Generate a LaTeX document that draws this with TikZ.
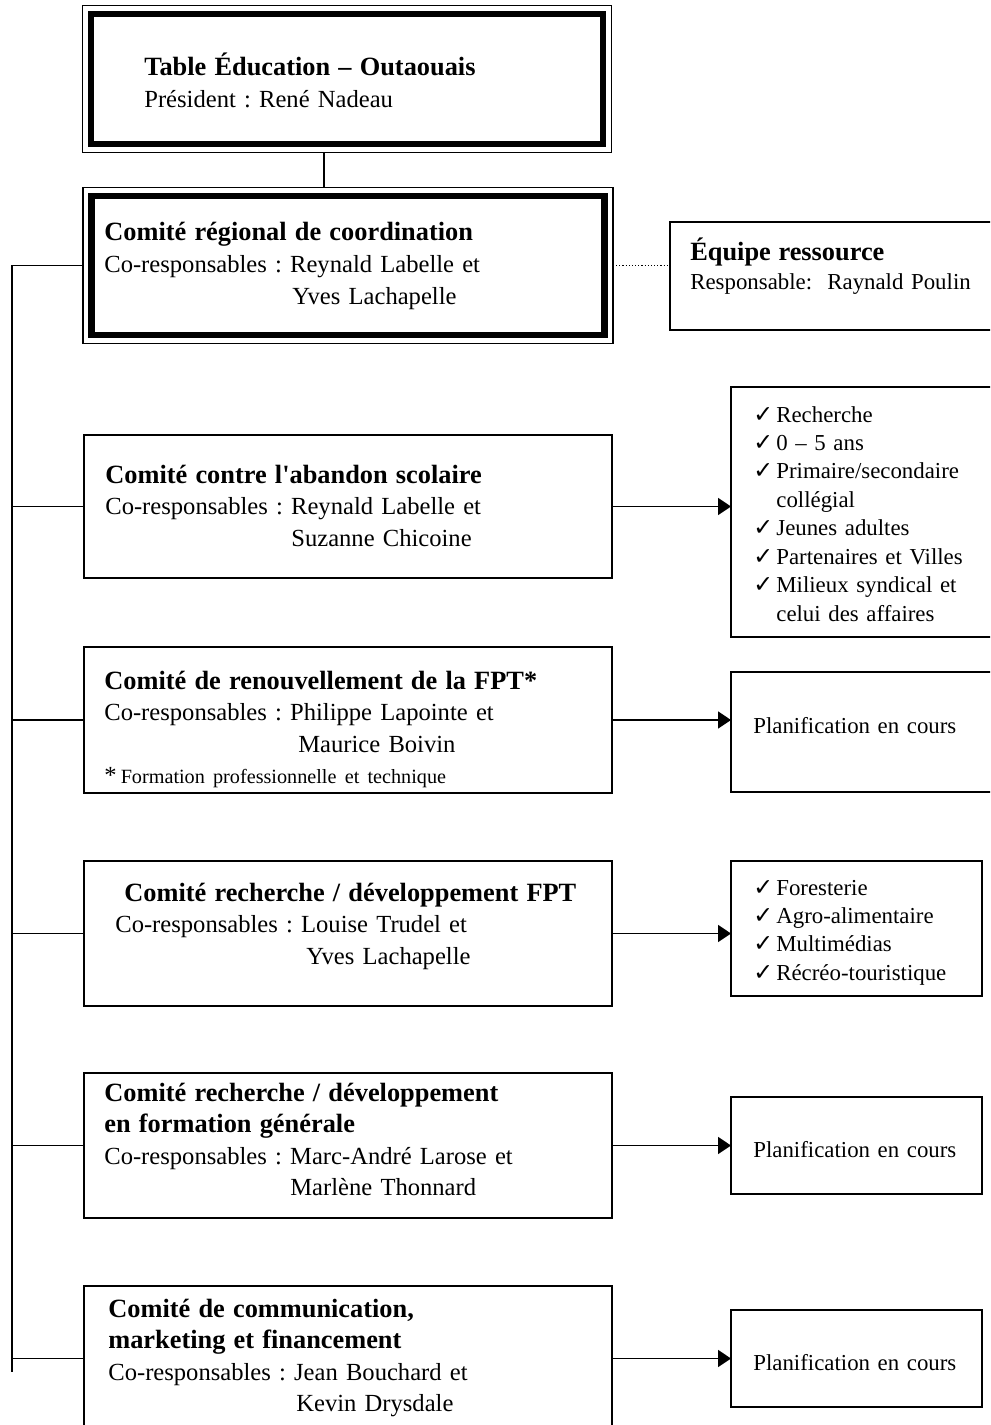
\documentclass[tikz,border=0pt]{standalone}
\usepackage{fontspec}
\setmainfont{Liberation Serif}
\newfontfamily\chkfont{DejaVu Sans}
\usetikzlibrary{arrows.meta}
\frenchspacing
\newdimen\px \px=0.02cm
\newcommand{\ck}{\makebox[23\px][l]{\chkfont\fontsize{13.5}{13.5}\selectfont ✓}}
\newcommand{\titre}[1]{{\fontsize{15}{18}\selectfont\bfseries #1}}
\tikzset{
  box/.style={draw, line width=1pt, outer sep=0pt, inner sep=0pt},
  heavy/.style={draw, line width=3.6pt, outer sep=0pt, inner sep=0pt},
  txt/.style={anchor=base west, align=left, text width=10cm, inner sep=0pt,
    font=\fontsize{14}{18}\selectfont},
  side/.style={anchor=base west, align=left, text width=6cm, inner sep=0pt,
    font=\fontsize{13}{16.2}\selectfont},
  link/.style={line width=1pt},
  arr/.style={line width=1pt, -{Triangle[length=0.26cm, width=0.34cm]}}
}
\begin{document}
\begin{tikzpicture}[x=0.02cm, y=-0.02cm]
  \useasboundingbox (0,0) rectangle (990,1425);
  \clip (0,0) rectangle (990,1425);
  % frames
  \node[heavy, minimum width=512\px, minimum height=130\px] (table) at (347,79) {};
  \node[box, line width=0.8pt, minimum width=529\px, minimum height=147\px] (tableF) at (347,79) {};
  \node[heavy, minimum width=513\px, minimum height=139\px] (regional) at (348,265.5) {};
  \node[box, line width=0.8pt, minimum width=530\px, minimum height=156\px] (regionalF) at (348,265.5) {};
  \node[box, minimum width=330\px, minimum height=108\px] (equipe) at (835,276) {};
  \node[box, minimum width=528\px, minimum height=143\px] (abandon) at (348,506.5) {};
  \node[box, minimum width=528\px, minimum height=146\px] (fpt) at (348,720) {};
  \node[box, minimum width=528\px, minimum height=145\px] (rdfpt) at (348,933.5) {};
  \node[box, minimum width=528\px, minimum height=145\px] (generale) at (348,1145.5) {};
  \node[box, minimum width=528\px, minimum height=145\px] (comm) at (348,1358.5) {};
  \node[box, minimum width=269\px, minimum height=250\px] (list1) at (865.5,512) {};
  \node[box, minimum width=269\px, minimum height=120\px] (plan1) at (865.5,732) {};
  \node[box, minimum width=251\px, minimum height=135\px] (list2) at (856.5,928.5) {};
  \node[box, minimum width=251\px, minimum height=97\px] (plan2) at (856.5,1145.5) {};
  \node[box, minimum width=251\px, minimum height=97\px] (plan3) at (856.5,1358.5) {};
  % texts
  \node[txt] (tTable) at (144,76) {\titre{Table Éducation – Outaouais}\\Président : René Nadeau};
  \node[txt] (tRegional) at (104,241) {\titre{Comité régional de coordination}\\
    Co-responsables : Reynald Labelle et\\\hspace*{188\px}Yves Lachapelle};
  \node[side] (tEquipe) at (690,261) {{\fontsize{15}{16}\selectfont\bfseries Équipe ressource}\\
    Responsable:\ \ Raynald Poulin};
  \node[txt] (tAbandon) at (105,483) {\titre{Comité contre l\textquotesingle abandon scolaire}\\
    Co-responsables : Reynald Labelle et\\\hspace*{186\px}Suzanne Chicoine};
  \node[txt] (tFpt) at (104,689) {\titre{Comité de renouvellement de la FPT*}\\
    Co-responsables : Philippe Lapointe et\\\hspace*{194\px}Maurice Boivin\\
    {*}\,{\fontsize{11.5}{14}\selectfont Formation professionnelle et technique}};
  \node[txt] (tRdfpt) at (115,901) {\hspace*{9\px}\titre{Comité recherche / développement FPT}\\
    Co-responsables : Louise Trudel et\\\hspace*{191\px}Yves Lachapelle};
  \node[txt] (tGenerale) at (104,1101) {\titre{Comité recherche / développement}\\
    \titre{en formation générale}\\
    Co-responsables : Marc-André Larose et\\\hspace*{186\px}Marlène Thonnard};
  \node[txt] (tComm) at (108,1317) {\titre{Comité de communication,}\\
    \titre{marketing et financement}\\
    Co-responsables : Jean Bouchard et\\\hspace*{188\px}Kevin Drysdale};
  \node[side] (tList1) at (753,422) {\ck Recherche\\\ck 0 – 5 ans\\\ck Primaire/secondaire\\
    \hspace*{23\px}collégial\\\ck Jeunes adultes\\\ck Partenaires et Villes\\
    \ck Milieux syndical et\\\hspace*{23\px}celui des affaires};
  \node[side] (tPlan1) at (753,733) {Planification en cours};
  \node[side] (tList2) at (753,895) {\ck Foresterie\\\ck Agro-alimentaire\\\ck Multimédias\\
    \ck Récréo-touristique};
  \node[side] (tPlan2) at (753,1157) {Planification en cours};
  \node[side] (tPlan3) at (753,1370) {Planification en cours};
  % connectors
  \coordinate (trunk) at (324,170);
  \coordinate (spineEnd) at (12,1372);
  \draw[link] (tableF.south -| trunk) -- (regionalF.north -| trunk);
  \draw[line width=0.8pt, dash pattern=on 0.6pt off 1.2pt] (regionalF.east) -- (regionalF.east -| equipe.west);
  \draw[link] (regionalF.west) -| (spineEnd);
  \foreach \b in {abandon,fpt,rdfpt,generale,comm}
    \draw[link] (\b.west) -- (\b.west -| spineEnd);
  \foreach \a/\b in {abandon/list1,fpt/plan1,rdfpt/list2,generale/plan2,comm/plan3}
    \draw[arr] (\a.east) -- (\a.east -| \b.west);
\end{tikzpicture}
\end{document}
